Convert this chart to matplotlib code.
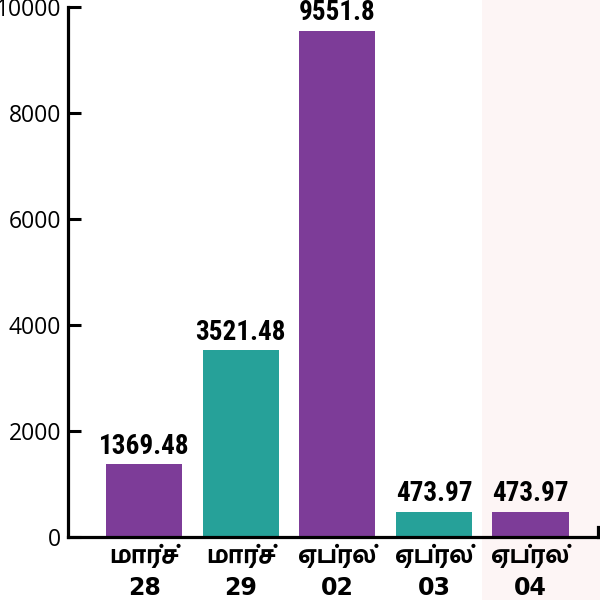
import matplotlib
matplotlib.use("Agg")
import matplotlib.pyplot as plt
import matplotlib.transforms as mtransforms
from matplotlib.patches import Rectangle

# ---- data ----
months = ["மார்ச்", "மார்ச்", "ஏப்ரல்", "ஏப்ரல்", "ஏப்ரல்"]
days = ["28", "29", "02", "03", "04"]
values = [1369.48, 3521.48, 9551.8, 473.97, 473.97]
value_labels = ["1369.48", "3521.48", "9551.8", "473.97", "473.97"]
yticks = [0, 2000, 4000, 6000, 8000, 10000]

PURPLE = "#7D3C98"
TEAL = "#26A199"
colors = [PURPLE, TEAL, PURPLE, TEAL, PURPLE]

TAMIL = ["Hind Madurai", "Mukta Malar", "Noto Sans Tamil", "DejaVu Sans"]

fig = plt.figure(figsize=(6, 6), dpi=100)
ax = fig.add_axes([68 / 600, 1 - 537 / 600, 530 / 600, 530 / 600])
ax.patch.set_alpha(0)

x = list(range(len(values)))
ax.bar(x, values, width=0.79, color=colors, zorder=2)

ax.set_xlim(-0.79, 4.70)
ax.set_ylim(0, 10000)

# pink background for the last column (full figure height)
trans = mtransforms.blended_transform_factory(ax.transData, fig.transFigure)
fig.patches.append(Rectangle((x[-1] - 0.5, 0), 10, 1, transform=trans,
                             facecolor="#FDF5F5", edgecolor="none", zorder=-5))

ax.spines["top"].set_visible(False)
for s in ["left", "bottom", "right"]:
    ax.spines[s].set_linewidth(2.3)
ax.spines["right"].set_bounds(0, 190)

ax.set_yticks(yticks)
ax.set_yticklabels([str(t) for t in yticks], family="Open Sans", fontsize=16.5)
ax.tick_params(axis="y", direction="in", length=9, width=2.2, pad=5)

ax.set_xticks(x)
ax.set_xticklabels(months, family=TAMIL, fontsize=17, fontweight="bold")
ax.tick_params(axis="x", length=0, pad=5)

xt = ax.get_xaxis_transform()
for xi, d in zip(x, days):
    ax.text(xi, -0.097, d, transform=xt, ha="center", va="center",
            family="DejaVu Sans", fontweight="bold", fontsize=17)

for xi, v, lab in zip(x, values, value_labels):
    ax.annotate(lab, (xi, v), xytext=(0, 7.5), textcoords="offset points",
                ha="center", va="baseline", family=["Roboto Condensed", "DejaVu Sans"],
                fontweight="bold", fontsize=19.5)

fig.savefig("out.png", dpi=100)
